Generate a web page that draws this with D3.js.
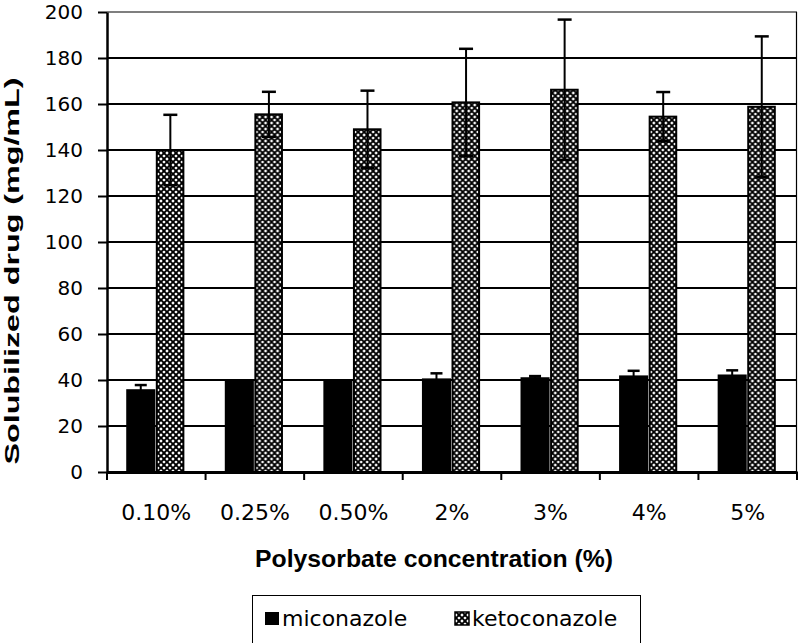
<!DOCTYPE html>
<html><head><meta charset="utf-8">
<script src="https://cdn.jsdelivr.net/npm/d3@7"></script>
<style>body{margin:0;background:#fff}svg{display:block}</style>
</head><body><svg id="c" width="799" height="643"></svg>
<script>
const categories = ["0.10%","0.25%","0.50%","2%","3%","4%","5%"];
const seriesNames = ["miconazole","ketoconazole"];
const miconazole = [36, 40.4, 40.4, 40.7, 41.2, 42, 42.4];
const miconazoleErr = [1.8, 0, 0, 2.2, 0.5, 2, 1.8];
const ketoconazole = [140, 155.5, 149, 160.7, 166.2, 154.5, 158.8];
const ketoconazoleErr = [15.3, 9.8, 16.8, 23.3, 30.5, 10.7, 30.6];
const yTicks = [0,20,40,60,80,100,120,140,160,180,200];

const svg = d3.select("#c");
const L=107, R=797, T=12, B=472;
const tickFont = '"DejaVu Sans",Verdana,sans-serif';
const boldFont = '"Liberation Sans",Arial,sans-serif';
const y = d3.scaleLinear().domain([0,200]).range([B,T]);
const x0 = d3.scaleBand().domain(categories).range([L,R]).padding(0);
const bw = x0.bandwidth();
const x1 = d3.scaleBand().domain(seriesNames).range([bw*0.195, bw*0.785]).padding(0);

const defs = svg.append("defs");
const P = 6;
const pat = defs.append("pattern").attr("id","hatch").attr("patternUnits","userSpaceOnUse")
  .attr("width",P).attr("height",P);
pat.append("rect").attr("width",P).attr("height",P).attr("fill","#fff");
pat.append("path").attr("d",`M${-P},${P} L${P},${-P} M0,${2*P} L${2*P},0 M${-P},0 L${P},${2*P} M0,${-P} L${2*P},${P} M0,0 L${P},${P} M0,${P} L${P},0`)
  .attr("stroke","#000").attr("stroke-width",1.9);

// gridlines
svg.append("g").selectAll("line").data(yTicks.filter(d=>d>0&&d<200)).join("line")
  .attr("x1",L).attr("x2",R).attr("y1",d=>y(d)).attr("y2",d=>y(d))
  .attr("stroke","#000").attr("stroke-width",2);
// plot border top/right
svg.append("line").attr("x1",L).attr("x2",R).attr("y1",y(200)).attr("y2",y(200)).attr("stroke","#000").attr("stroke-width",1.2);
svg.append("line").attr("x1",R-0.5).attr("x2",R-0.5).attr("y1",T).attr("y2",B).attr("stroke","#000").attr("stroke-width",1.2);

const data = categories.map((c,i)=>({c, vals:[
  {s:"miconazole", v:miconazole[i], e:miconazoleErr[i]},
  {s:"ketoconazole", v:ketoconazole[i], e:ketoconazoleErr[i]}]}));

const g = svg.append("g").selectAll("g").data(data).join("g")
  .attr("transform",d=>`translate(${x0(d.c)},0)`);
g.selectAll("rect").data(d=>d.vals).join("rect")
  .attr("x",d=>x1(d.s)+(d.s==="ketoconazole"?1.5:0))
  .attr("width",d=>x1.bandwidth()-(d.s==="ketoconazole"?2.5:0))
  .attr("y",d=>y(d.v)).attr("height",d=>y(0)-y(d.v))
  .attr("fill",d=>d.s==="miconazole"?"#000":"url(#hatch)")
  .attr("stroke","#000").attr("stroke-width",d=>d.s==="miconazole"?0:2);

// error bars
g.selectAll("g.err").data(d=>d.vals.filter(v=>v.e>0)).join("g").attr("class","err").each(function(d){
  const cx = x1(d.s)+x1.bandwidth()/2 + (d.s==="ketoconazole"?0.5:0);
  const cw = d.s==="ketoconazole"?7:6;
  const e = d3.select(this);
  e.append("line").attr("x1",cx).attr("x2",cx).attr("y1",y(d.v+d.e)).attr("y2",y(d.v-d.e)).attr("stroke","#000").attr("stroke-width",2);
  e.append("line").attr("x1",cx-cw).attr("x2",cx+cw).attr("y1",y(d.v+d.e)).attr("y2",y(d.v+d.e)).attr("stroke","#000").attr("stroke-width",2.5);
  e.append("line").attr("x1",cx-cw).attr("x2",cx+cw).attr("y1",y(d.v-d.e)).attr("y2",y(d.v-d.e)).attr("stroke","#000").attr("stroke-width",2.5);
});

// y axis
const ya = svg.append("g").attr("transform",`translate(${L},0)`)
  .call(d3.axisLeft(y).tickValues(yTicks).tickSize(9).tickPadding(15).tickSizeOuter(0));
ya.select(".domain").attr("stroke-width",2.5);
ya.selectAll(".tick line").attr("stroke-width",2);
ya.selectAll("text").style("font-size","20px").style("font-family",tickFont).attr("fill","#000");

// x axis
const xa = svg.append("g").attr("transform",`translate(0,${B})`)
  .call(d3.axisBottom(x0).tickSize(0).tickPadding(32));
xa.select(".domain").attr("stroke-width",3);
xa.selectAll("text").style("font-size","22px").style("font-family",tickFont).attr("fill","#000");
svg.append("g").selectAll("line").data(categories.concat(["end"])).join("line")
  .attr("x1",(d,i)=>L+i*bw).attr("x2",(d,i)=>L+i*bw).attr("y1",B).attr("y2",B+8)
  .attr("stroke","#000").attr("stroke-width",2);

// titles
svg.append("text").attr("transform","translate(19,271) rotate(-90)").attr("text-anchor","middle")
  .style("font-family",boldFont).style("font-size","21px").style("font-weight","bold")
  .attr("textLength",387).attr("lengthAdjust","spacingAndGlyphs")
  .text("Solubilized drug (mg/mL)");
svg.append("text").attr("x",434).attr("y",567).attr("text-anchor","middle")
  .style("font-family",boldFont).style("font-size","24px").style("font-weight","bold")
  .attr("textLength",358).attr("lengthAdjust","spacingAndGlyphs")
  .text("Polysorbate concentration (%)");

// legend
const lg = svg.append("g");
lg.append("rect").attr("x",252.5).attr("y",595.5).attr("width",388).attr("height",52).attr("fill","#fff").attr("stroke","#000").attr("stroke-width",1);
const items = [{s:"miconazole",x:265},{s:"ketoconazole",x:455}];
items.forEach(it=>{
  lg.append("rect").attr("x",it.x).attr("y",612).attr("width",14).attr("height",13)
    .attr("fill",it.s==="miconazole"?"#000":"url(#hatch)").attr("stroke","#000").attr("stroke-width",it.s==="miconazole"?0:1.5);
  lg.append("text").attr("x",it.x+17).attr("y",626).style("font-size","22px").style("font-family",tickFont).text(it.s);
});
</script></body></html>
